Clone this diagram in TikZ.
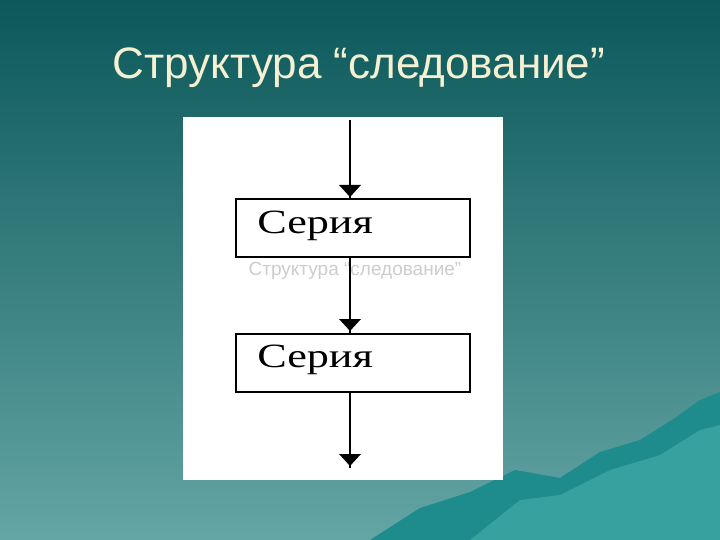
\documentclass[tikz,border=0pt]{standalone}
\usepackage{fontspec}
\setmainfont{Liberation Sans}
\newfontfamily\serifru{Liberation Serif}
\definecolor{bgtop}{RGB}{12,88,90}
\definecolor{bgbot}{RGB}{100,165,165}
\definecolor{mtn}{RGB}{30,140,140}
\definecolor{mtnlight}{RGB}{70,175,170}
\definecolor{titlecol}{RGB}{245,240,210}
\definecolor{ghostcol}{RGB}{205,205,205}
\begin{document}
\begin{tikzpicture}[x=1pt,y=-1pt,
  blk/.style={draw=black,line width=2pt,fill=white,minimum width=234pt,minimum height=58pt,inner sep=0pt},
  lbl/.style={anchor=west,inner sep=0pt,xscale=1.3,font=\serifru\fontsize{34}{40}\selectfont},
  flow/.style={line width=2pt},
  tip/.style={fill=black}]
\useasboundingbox (0,0) rectangle (720,540);
\shade[top color=bgtop,bottom color=bgbot] (0,0) rectangle (720,540);
\fill[mtn] (370,540) -- (420,508) -- (470,492) -- (515,470) -- (560,478) -- (600,452) -- (640,440) -- (675,418) -- (700,400) -- (720,392) -- (720,540) -- cycle;
\fill[mtnlight,opacity=0.6] (470,540) -- (520,500) -- (560,495) -- (610,470) -- (660,455) -- (700,430) -- (720,425) -- (720,540) -- cycle;
\node[text=titlecol,font=\fontsize{44}{50}\selectfont] (title) at (359,68) {Структура “следование”};
\fill[white] (183,117) rectangle (503,480);
\node[blk] (b1) at (353,228) {};
\node[blk] (b2) at (353,362.5) {};
\node[lbl] (t1) at (257,226) {Серия};
\node[lbl] (t2) at (257,360) {Серия};
\node[text=ghostcol,font=\fontsize{19}{22}\selectfont] (ghost) at (355,271) {Структура “следование”};
\coordinate (top) at (350,120);
\coordinate (bot) at (350,468);
\draw[flow] (top) -- (b1.north -| top);
\draw[flow] (b1.south -| top) -- (b2.north -| top);
\draw[flow] (b2.south -| top) -- (bot);
\fill[tip] (339,185) -- (361,185) -- (350,197) -- cycle;
\fill[tip] (339,319) -- (361,319) -- (350,331) -- cycle;
\fill[tip] (339,454) -- (361,454) -- (350,466) -- cycle;
\end{tikzpicture}
\end{document}
